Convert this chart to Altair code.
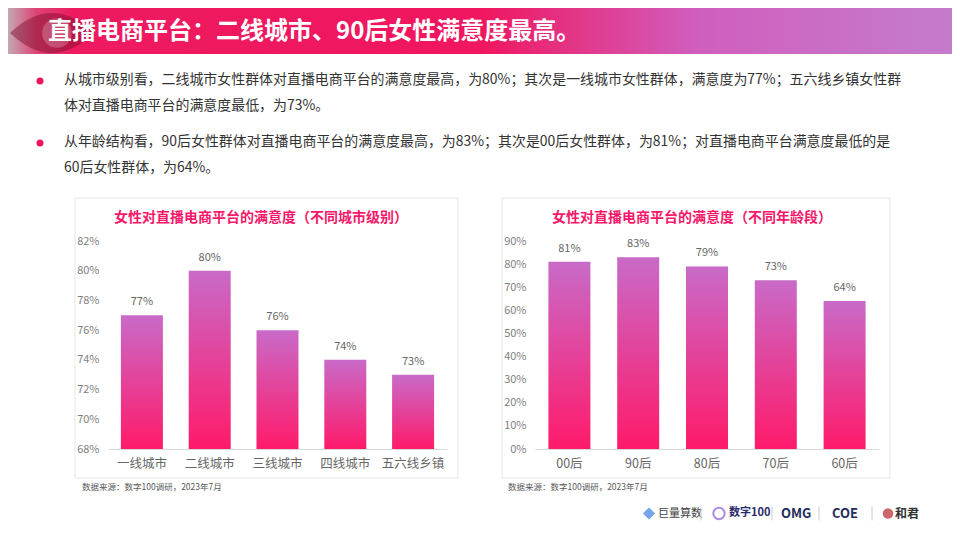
import altair as alt
import pandas as pd

FONT = "Noto Sans CJK SC"

# ---------------- data ----------------
title_text = "直播电商平台：二线城市、90后女性满意度最高。"
bullet1 = ["从城市级别看，二线城市女性群体对直播电商平台的满意度最高，为80%；其次是一线城市女性群体，满意度为77%；五六线乡镇女性群",
           "体对直播电商平台的满意度最低，为73%。"]
bullet2 = ["从年龄结构看，90后女性群体对直播电商平台的满意度最高，为83%；其次是00后女性群体，为81%；对直播电商平台满意度最低的是",
           "60后女性群体，为64%。"]

city_title = "女性对直播电商平台的满意度（不同城市级别）"
city_cats = ["一线城市", "二线城市", "三线城市", "四线城市", "五六线乡镇"]
city_vals = [77, 80, 76, 74, 73]
city_ticks = [68, 70, 72, 74, 76, 78, 80, 82]

age_title = "女性对直播电商平台的满意度（不同年龄段）"
age_cats = ["00后", "90后", "80后", "70后", "60后"]
age_vals = [81, 83, 79, 73, 64]
age_ticks = [0, 10, 20, 30, 40, 50, 60, 70, 80, 90]

source_text = "数据来源：数字100调研，2023年7月"
logo_names = ["巨量算数", "数字100", "OMG", "COE", "和君"]

ONE = pd.DataFrame({"k": [0]})

PINK = "#f5186a"
BAR_GRAD = {"gradient": "linear", "x1": 0, "y1": 0, "x2": 0, "y2": 1,
            "stops": [{"offset": 0, "color": "#c96ac8"},
                      {"offset": 1, "color": "#ff1a6a"}]}
HEAD_GRAD = {"gradient": "linear", "x1": 0, "y1": 0, "x2": 1, "y2": 0,
             "stops": [{"offset": 0.0, "color": "#c4a8b4"},
                       {"offset": 0.03, "color": "#dc4474"},
                       {"offset": 0.07, "color": "#ee1a60"},
                       {"offset": 0.5, "color": "#f0165f"},
                       {"offset": 0.62, "color": "#e03c90"},
                       {"offset": 0.73, "color": "#d05ebe"},
                       {"offset": 1.0, "color": "#c47ccb"}]}
EYE_PATH = "M -1 0 Q 0 -0.95 1 0 Q 0 0.95 -1 0 Z"

# all panels of the vertical stack share the same x origin (image x = 108)
OX = 108
PAGE_L = 8 - OX      # left page edge relative to origin
PAGE_R = 952 - OX    # right page edge relative to origin


def txt(text, x, y, size, color, weight="normal", align="left", baseline="middle"):
    return alt.Chart(ONE).mark_text(
        text=text, align=align, baseline=baseline, fontSize=size,
        color=color, fontWeight=weight, font=FONT
    ).encode(x=alt.value(x), y=alt.value(y))


def rect(x0, x1, y0, y1, **kw):
    return alt.Chart(ONE).mark_rect(**kw).encode(
        x=alt.value(x0), x2=alt.value(x1), y=alt.value(y0), y2=alt.value(y1))


def dot(x, y, **kw):
    return alt.Chart(ONE).mark_point(**kw).encode(x=alt.value(x), y=alt.value(y))


# ---------------- header ----------------
header = alt.layer(
    rect(PAGE_L, PAGE_R, 0, 46, fill=HEAD_GRAD),
    alt.Chart(ONE).mark_point(shape=EYE_PATH, size=7056, filled=True,
                              color="#7a0828", opacity=0.45, strokeWidth=0)
    .encode(x=alt.value(52 - OX), y=alt.value(25)),
    alt.Chart(ONE).mark_circle(size=880, color="#ffffff", opacity=0.22)
    .encode(x=alt.value(57 - OX), y=alt.value(25)),
    txt(title_text, 48 - OX, 24, 24, "white", weight="bold"),
).properties(width=PAGE_R, height=46)

# ---------------- bullets ----------------
blayers = [rect(PAGE_L, PAGE_R, 0, 143, fill="white", opacity=0)]
for i, lines in enumerate([bullet1, bullet2]):
    y0 = 26 + i * 62
    blayers.append(alt.Chart(ONE).mark_circle(color="#f0145e", size=50, opacity=1)
                   .encode(x=alt.value(40 - OX), y=alt.value(y0 + 1)))
    for j, line in enumerate(lines):
        blayers.append(txt(line, 64 - OX, y0 + j * 26, 13.95, "#333333"))
bullets = alt.layer(*blayers).properties(width=PAGE_R, height=143)


# ---------------- bar charts ----------------
def bar_chart(cats, vals, domain, ticks, w, h, title, title_cx):
    df = pd.DataFrame({"cat": cats, "val": vals})
    base = alt.Chart(df).transform_calculate(lab="datum.val + '%'")
    x = alt.X("cat:N", sort=cats,
              scale=alt.Scale(paddingInner=0, paddingOuter=0),
              axis=alt.Axis(title=None, labelAngle=0, ticks=False,
                            domainColor="#d9d9d9", labelColor="#666666",
                            labelFontSize=12.5, labelPadding=8, labelFont=FONT))
    y = alt.Y("val:Q",
              scale=alt.Scale(domain=domain, zero=False, nice=False),
              axis=alt.Axis(title=None, values=ticks,
                            labelExpr="datum.value + '%'", domain=False,
                            ticks=False, grid=False, labelColor="#7f7f7f",
                            labelFontSize=11, labelPadding=9, labelFont=FONT))
    bars = base.mark_bar(size=42, color=BAR_GRAD).encode(
        x=x, y=y, y2=alt.datum(domain[0]))
    labels = base.mark_text(dy=-13, baseline="middle", fontSize=11,
                            color="#666666", font=FONT).encode(x=x, y=y, text="lab:N")
    box = rect(-33, w + 11, -43, h + 29, fill="#ffffff", fillOpacity=0,
               stroke="#e6e6e6", strokeWidth=1)
    ttl = txt(title, title_cx, -23, 14, PINK, weight="bold", align="center")
    return alt.layer(box, bars, labels, ttl).properties(width=w, height=h)


c1 = bar_chart(city_cats, city_vals, [68, 82], city_ticks, 339, 208,
               city_title, 153)
c2 = bar_chart(age_cats, age_vals, [0, 90], age_ticks, 344, 208,
               age_title, 157)
charts = alt.hconcat(c1, c2, spacing=42)

# ---------------- footer ----------------
fy = 34.5
flayers = [rect(PAGE_L, PAGE_R, 0, 54, fill="white", opacity=0),
           txt(source_text, 82 - OX, 7.5, 8.5, "#595959"),
           txt(source_text, 508 - OX, 7.5, 8.5, "#595959")]
flayers += [
    dot(649 - OX, fy, shape="diamond", filled=True, color="#3d7fe0", size=150),
    txt(logo_names[0], 658 - OX, fy, 11, "#444444"),
    dot(719 - OX, fy, shape="circle", filled=False, color="#8a5ad8", size=130, strokeWidth=2),
    txt(logo_names[1], 729 - OX, fy - 1, 11, "#2b2b6b", weight="bold"),
    txt(logo_names[2], 781 - OX, fy, 13, "#1f2d5c", weight="bold"),
    txt(logo_names[3], 832 - OX, fy, 13, "#1f2d5c", weight="bold"),
    dot(888 - OX, fy, shape="circle", filled=True, color="#b5252b", size=110),
    txt(logo_names[4], 895 - OX, fy, 12, "#333333", weight="bold"),
]
for sx in [701, 772, 819, 872]:
    flayers.append(alt.Chart(ONE).mark_rule(color="#cccccc", strokeWidth=1)
                   .encode(x=alt.value(sx - OX), y=alt.value(fy - 7), y2=alt.value(fy + 7)))
footer = alt.layer(*flayers).properties(width=PAGE_R, height=54)

chart = alt.vconcat(header, bullets, charts, footer, spacing=0).properties(
    padding=0, background="white"
).configure_view(strokeWidth=0)

chart.save("out.html", embed_options={"renderer": "svg", "actions": False})
